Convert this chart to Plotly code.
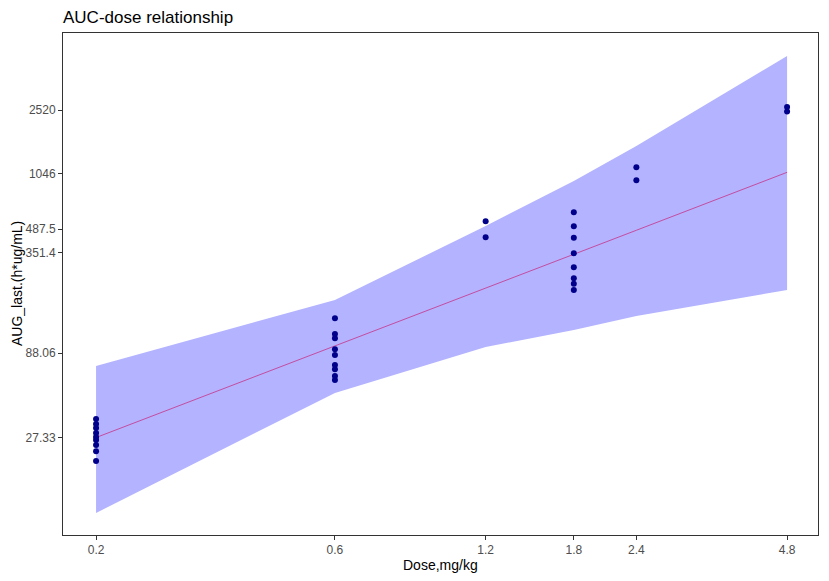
import plotly.graph_objects as go

# Band / fitted line at each unique dose
doses = [0.2, 0.6, 1.2, 1.8, 2.4, 4.8]
band_upper = [73.8, 183.3, 508.9, 946, 1535, 5307]
band_lower = [9.72, 50.9, 95.9, 121.3, 147.1, 210.4]
fit_line = [27.5, 97.0, 215.7, 344, 479.7, 1067]

# Observed points
obs_dose = ([0.2] * 9 + [0.6] * 9 + [1.2] * 2 + [1.8] * 8 + [2.4] * 2 + [4.8] * 2)
obs_auc = [35.5, 33.1, 31.4, 29.3, 27.7, 26.6, 24.8, 22.8, 19.9,
           142.5, 114.7, 108.1, 92.8, 85.9, 74.8, 70.5, 64.3, 60.8,
           543, 435,
           615, 506.6, 433, 349, 287.6, 247.3, 229.6, 210.4,
           1143, 955,
           2626, 2473]

x_ticks = [0.2, 0.6, 1.2, 1.8, 2.4, 4.8]
x_tick_labels = ["0.2", "0.6", "1.2", "1.8", "2.4", "4.8"]
y_ticks = [27.33, 88.06, 351.4, 487.5, 1046, 2520]
y_tick_labels = ["27.33", "88.06", "351.4", "487.5", "1046", "2520"]

W, H = 829, 581
ML, MR, MT, MB = 63, 11, 33, 46

fig = go.Figure()
fig.add_trace(go.Scatter(x=doses, y=band_lower, mode="lines", line=dict(width=0),
                         showlegend=False, hoverinfo="skip"))
fig.add_trace(go.Scatter(x=doses, y=band_upper, mode="lines", line=dict(width=0),
                         fill="tonexty", fillcolor="rgb(179,179,255)",
                         showlegend=False, hoverinfo="skip"))
fig.add_trace(go.Scatter(x=doses, y=fit_line, mode="lines",
                         line=dict(color="rgb(196,77,160)", width=1),
                         showlegend=False))
fig.add_trace(go.Scatter(x=obs_dose, y=obs_auc, mode="markers",
                         marker=dict(color="#00008B", size=6),
                         showlegend=False))

axis_common = dict(showgrid=False, zeroline=False, showline=True, mirror=True,
                   linecolor="#333333", linewidth=1, ticks="outside", ticklen=4,
                   tickcolor="#333333", automargin=False,
                   tickfont=dict(family="Liberation Sans", size=12, color="#4D4D4D"))

fig.update_layout(
    width=W, height=H,
    margin=dict(l=ML, r=MR, t=MT, b=MB),
    plot_bgcolor="white", paper_bgcolor="white",
    title=dict(text="AUC-dose relationship", x=ML / W, xanchor="left",
               y=1 - 17 / H, yanchor="middle", automargin=False,
               font=dict(family="Liberation Sans", size=17, color="black")),
    xaxis=dict(type="log", range=[-0.765, 0.743], tickvals=x_ticks,
               ticktext=x_tick_labels, **axis_common),
    yaxis=dict(type="log", range=[0.8555, 3.8628], tickvals=y_ticks,
               ticktext=y_tick_labels, **axis_common),
    annotations=[
        dict(text="Dose,mg/kg", xref="paper", yref="paper", x=0.5, y=-30 / (H - MT - MB),
             xanchor="center", yanchor="middle", showarrow=False,
             font=dict(family="Liberation Sans", size=14, color="black")),
        dict(text="AUG_last.(h*ug/mL)", xref="paper", yref="paper",
             x=-(63 - 17) / (W - ML - MR), y=0.5, textangle=-90,
             xanchor="center", yanchor="middle", showarrow=False,
             font=dict(family="Liberation Sans", size=14, color="black")),
    ],
)

fig.write_html("out.html", config={"displayModeBar": False},
               post_script="document.body.style.margin='0px';")
